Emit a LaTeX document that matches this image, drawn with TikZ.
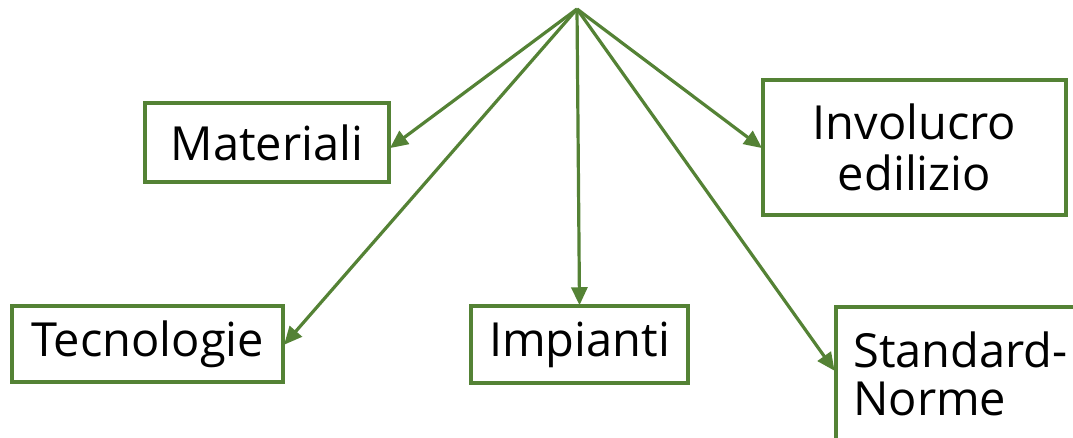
\documentclass[tikz,border=0pt]{standalone}
\usepackage{fontspec}
\setmainfont{Open Sans}
\usetikzlibrary{arrows.meta}
\definecolor{leaf}{RGB}{84,130,53}
\tikzset{
  x=1pt, y=-1pt,
  topic/.style={draw=leaf, line width=3.5pt, fill=white, inner sep=0pt,
    font=\fontsize{47}{50}\selectfont, text=black},
  link/.style={draw=leaf, line width=3.2pt,
    -{Triangle[length=18pt,width=16pt]}, shorten >=-1pt}
}
\begin{document}
\begin{tikzpicture}
\useasboundingbox (0,0) rectangle (1073,438);
\clip (0,0) rectangle (1073,438);
\coordinate (hub) at (577,9);
\node[topic, minimum width=244pt, minimum height=79pt] (mat) at (267,142.5) {Materiali};
\node[topic, minimum width=303pt, minimum height=135pt, align=center] (inv) at (914.5,147.5) {Involucro\\[1pt]edilizio};
\node[topic, minimum width=271pt, minimum height=76pt] (tec) at (147.5,344) {Tecnologie};
\node[topic, minimum width=217pt, minimum height=77pt] (imp) at (579.5,344.5) {Impianti};
\node[topic, minimum width=270pt, minimum height=200pt, anchor=north west] (std) at (834,305) {};
\node[font=\fontsize{47}{48}\selectfont, anchor=base west, inner sep=0pt] (stdtext) at (853,367) {Standard-};
\node[font=\fontsize{47}{48}\selectfont, anchor=base west, inner sep=0pt] (stdtext2) at (853,415) {Norme};
\coordinate (stdin) at (834,370);
\draw[link] (hub) -- ([yshift=-5pt]mat.east);
\draw[link] (hub) -- (tec.east);
\draw[link] (hub) -- (imp.north);
\draw[link] (hub) -- (inv.west);
\draw[link] (hub) -- (stdin);
\end{tikzpicture}
\end{document}
